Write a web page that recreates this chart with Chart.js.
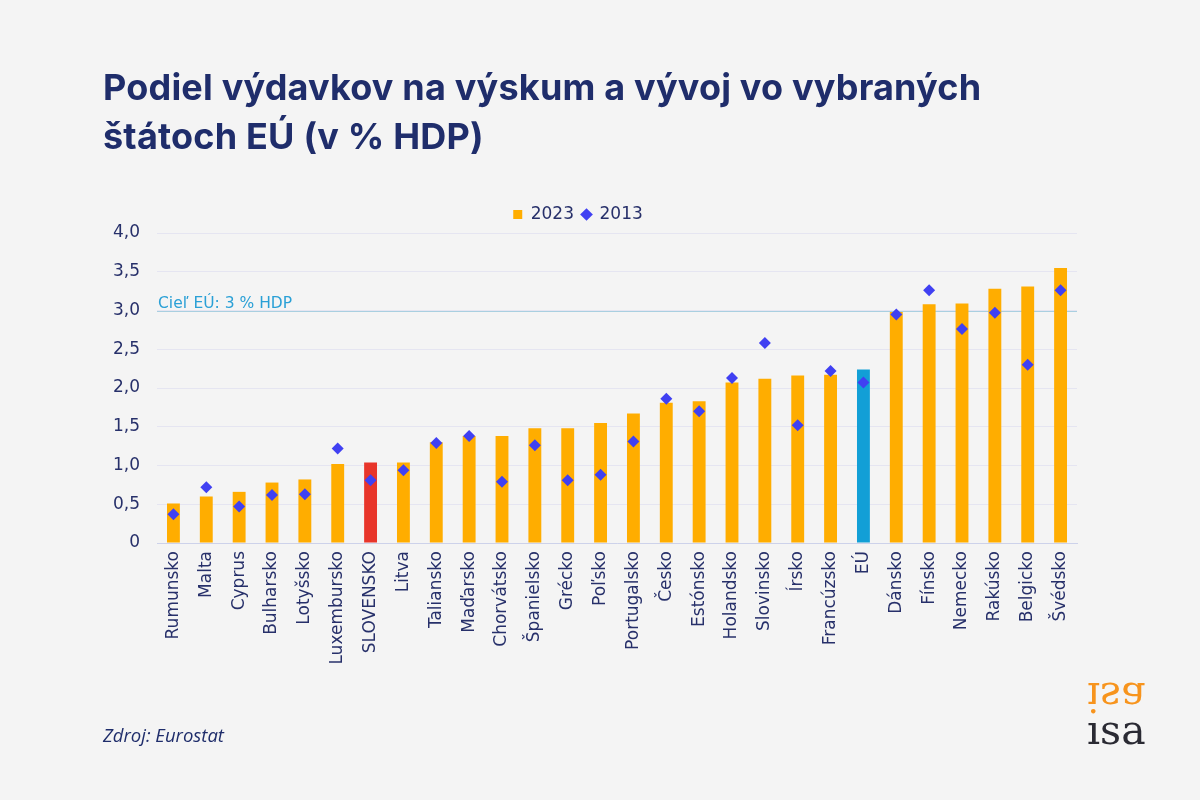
<!DOCTYPE html>
<html><head><meta charset="utf-8">
<script src="https://cdn.jsdelivr.net/npm/chart.js@4"></script>
<style>
html,body{margin:0;padding:0;background:#f4f4f4;width:1200px;height:800px;overflow:hidden;}
#wrap{position:absolute;left:0;top:0;width:1200px;height:800px;}
#title{position:absolute;left:103px;top:63px;margin:0;font-family:Inter,"Open Sans",sans-serif;font-weight:700;font-size:36px;line-height:49px;color:#1f2d6b;letter-spacing:0.2px;white-space:nowrap;}
#src{position:absolute;left:103px;top:722px;font-family:"Open Sans",sans-serif;font-style:italic;font-size:18.5px;color:#1f2d6b;}
.logo{position:absolute;left:1087px;font-family:"DejaVu Serif","Liberation Serif",serif;font-size:41px;line-height:41px;height:41px;}
#logo1{top:676px;color:#f7941d;transform:scaleY(-1);}
#logo2{top:710px;color:#2a2a33;}
</style></head>
<body>
<div id="wrap"><canvas id="c" width="1200" height="800"></canvas></div>
<h1 id="title">Podiel výdavkov na výskum a vývoj vo vybraných<br>štátoch EÚ (v % HDP)</h1>
<div id="src">Zdroj: Eurostat</div>
<div id="logo1" class="logo">isa</div>
<div id="logo2" class="logo">ısa</div>
<script>
const categories = ["Rumunsko","Malta","Cyprus","Bulharsko","Lotyšsko","Luxembursko","SLOVENSKO","Litva","Taliansko","Maďarsko","Chorvátsko","Španielsko","Grécko","Poľsko","Portugalsko","Česko","Estónsko","Holandsko","Slovinsko","Írsko","Francúzsko","EÚ","Dánsko","Fínsko","Nemecko","Rakúsko","Belgicko","Švédsko"];
const values2023 = [0.51,0.60,0.66,0.78,0.82,1.02,1.04,1.04,1.30,1.38,1.38,1.48,1.48,1.55,1.67,1.81,1.83,2.07,2.12,2.16,2.17,2.24,2.98,3.08,3.09,3.28,3.31,3.55];
const values2013 = [0.37,0.72,0.47,0.62,0.63,1.22,0.81,0.94,1.29,1.38,0.79,1.26,0.81,0.88,1.31,1.86,1.70,2.13,2.58,1.52,2.22,2.07,2.95,3.26,2.76,2.97,2.30,3.26];
const yTicks = [0,0.5,1,1.5,2,2.5,3,3.5,4];
const targetValue = 3;
const targetLabel = "Cieľ EÚ: 3 % HDP";
const seriesNames = ["2023","2013"];

const barColors = categories.map(c => c === "SLOVENSKO" ? "#e8352a" : (c === "EÚ" ? "#129fd6" : "#ffad00"));
const textColor = "#27306a";
const FONT = "'DejaVu Sans', 'Open Sans', sans-serif";

const targetPlugin = {
  id: "target",
  beforeDatasetsDraw(chart) {
    const {ctx, chartArea, scales} = chart;
    const y = Math.round(scales.y.getPixelForValue(targetValue)) + 0.5;
    ctx.save();
    ctx.strokeStyle = "#a9cfe0";
    ctx.lineWidth = 1;
    ctx.beginPath();
    ctx.moveTo(chartArea.left, y);
    ctx.lineTo(chartArea.right, y);
    ctx.stroke();
    ctx.fillStyle = "#2aa0d6";
    ctx.font = "15.5px " + FONT;
    ctx.textBaseline = "alphabetic";
    ctx.textAlign = "left";
    ctx.fillText(targetLabel, chartArea.left + 1, y - 4);
    ctx.restore();
  }
};

new Chart(document.getElementById("c"), {
  data: {
    labels: categories,
    datasets: [
      {type: "bar", label: seriesNames[0], data: values2023, backgroundColor: barColors, barPercentage: 0.8, categoryPercentage: 0.49, order: 2},
      {type: "line", label: seriesNames[1], data: values2013, showLine: false, pointStyle: "rectRot", pointRadius: 6, pointHoverRadius: 6, pointBorderWidth: 0, pointBackgroundColor: "#4040f2", pointBorderColor: "#4040f2", backgroundColor: "#4040f2", borderColor: "#4040f2", order: 1}
    ]
  },
  options: {
    responsive: false,
    animation: false,
    events: [],
    layout: {padding: {left: 79, top: 198, right: 123, bottom: 0}},
    plugins: {
      tooltip: {enabled: false},
      legend: {
        display: true,
        position: "top",
        labels: {
          color: textColor,
          font: {family: FONT, size: 17},
          usePointStyle: true,
          boxWidth: 9, boxHeight: 9,
          padding: 8,
          generateLabels(chart) {
            return chart.data.datasets.map((ds, i) => ({
              text: ds.label,
              fillStyle: i === 0 ? "#ffad00" : "#4040f2",
              strokeStyle: i === 0 ? "#ffad00" : "#4040f2",
              lineWidth: 0,
              pointStyle: i === 0 ? "rect" : "rectRot",
              datasetIndex: i,
              hidden: false,
              fontColor: textColor
            }));
          }
        }
      }
    },
    scales: {
      x: {
        type: "category",
        grid: {display: false, drawTicks: false},
        border: {display: true, color: "#cdd2ea"},
        ticks: {color: textColor, font: {family: FONT, size: 17}, maxRotation: 90, minRotation: 90, autoSkip: false, padding: 8},
        afterFit(scale) { scale.height = 257; }
      },
      y: {
        min: 0, max: 4,
        afterBuildTicks(scale) { scale.ticks = yTicks.map(v => ({value: v})); },
        grid: {color: "#e5e5f1", drawTicks: false},
        border: {display: false},
        ticks: {color: textColor, font: {family: FONT, size: 17}, padding: 17,
          callback: v => v === 0 ? "0" : v.toFixed(1).replace(".", ",")},
        afterFit(scale) { scale.width = 78; }
      }
    }
  },
  plugins: [targetPlugin]
});
</script>
</body></html>
